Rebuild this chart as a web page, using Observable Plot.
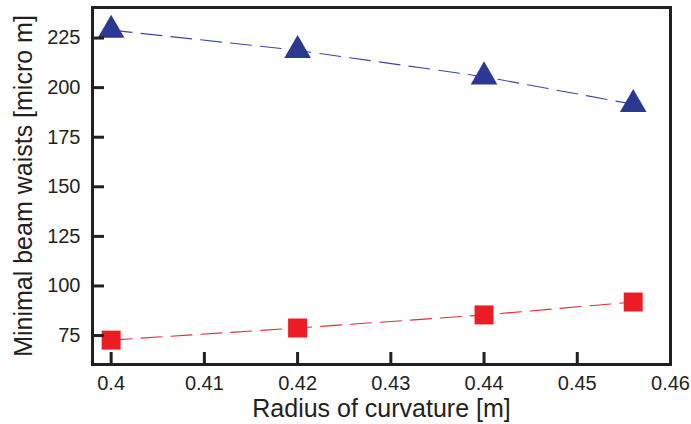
<!DOCTYPE html>
<html>
<head>
<meta charset="utf-8">
<script src="https://cdn.jsdelivr.net/npm/d3@7"></script>
<script src="https://cdn.jsdelivr.net/npm/@observablehq/plot@0.6"></script>
<style>
  html, body { margin: 0; padding: 0; background: #fff; }
  #chart { width: 691px; height: 424px; }
</style>
</head>
<body>
<div id="chart"></div>
<script>
// Data
const radius = [0.4, 0.42, 0.44, 0.456];
const waistBlue = [229, 218.8, 205.5, 191.6];   // triangles
const waistRed = [72.7, 78.8, 85.4, 91.9];      // squares
const xTicks = [0.4, 0.41, 0.42, 0.43, 0.44, 0.45, 0.46];
const yTicks = [75, 100, 125, 150, 175, 200, 225];

const blue = radius.map((r, i) => ({x: r, y: waistBlue[i]}));
const red = radius.map((r, i) => ({x: r, y: waistRed[i]}));

const ink = "#231f20";
const chart = Plot.plot({
  width: 691,
  height: 424,
  marginLeft: 92,
  marginTop: 7,
  marginRight: 21,
  marginBottom: 60,
  style: {fontFamily: "'Liberation Sans', Arial, sans-serif", color: ink, background: "#fff"},
  x: {domain: [0.398, 0.46]},
  y: {domain: [60.4, 240.4]},
  marks: [
    Plot.line(blue, {x: "x", y: "y", stroke: "#3b47a3", strokeWidth: 1.1, strokeDasharray: "21 9"}),
    Plot.line(red, {x: "x", y: "y", stroke: "#ee2a33", strokeWidth: 1.1, strokeDasharray: "21 9"}),
    Plot.dot(blue, {x: "x", y: "y", symbol: "triangle", r: 9.9, fill: "#2b3990", stroke: "none"}),
    Plot.dot(red, {x: "x", y: "y", symbol: "square", r: 10.7, fill: "#ed1c24", stroke: "none"}),
    // inward tick marks
    Plot.axisX({ticks: xTicks, tickFormat: () => "", tickSize: 12, dy: -12, strokeWidth: 3, label: null, stroke: ink}),
    Plot.axisY({ticks: yTicks, tickFormat: () => "", tickSize: 12, dx: 12, strokeWidth: 3, label: null, stroke: ink}),
    // tick labels and titles
    Plot.axisX({ticks: xTicks, tickFormat: d => String(d), tickSize: 0, tickPadding: 11,
      fontSize: 20, label: "Radius of curvature [m]", labelAnchor: "center", labelArrow: "none", labelOffset: 52}),
    Plot.axisY({ticks: yTicks, tickFormat: d => String(d), tickSize: 0, tickPadding: 12,
      fontSize: 20, label: "Minimal beam waists [micro m]", labelAnchor: "center", labelArrow: "none", labelOffset: 78}),
    Plot.frame({stroke: ink, strokeWidth: 3})
  ]
});
chart.querySelectorAll("g[aria-label$='axis label'] text").forEach(t => t.setAttribute("font-size", 25));
document.getElementById("chart").appendChild(chart);
</script>
</body>
</html>
